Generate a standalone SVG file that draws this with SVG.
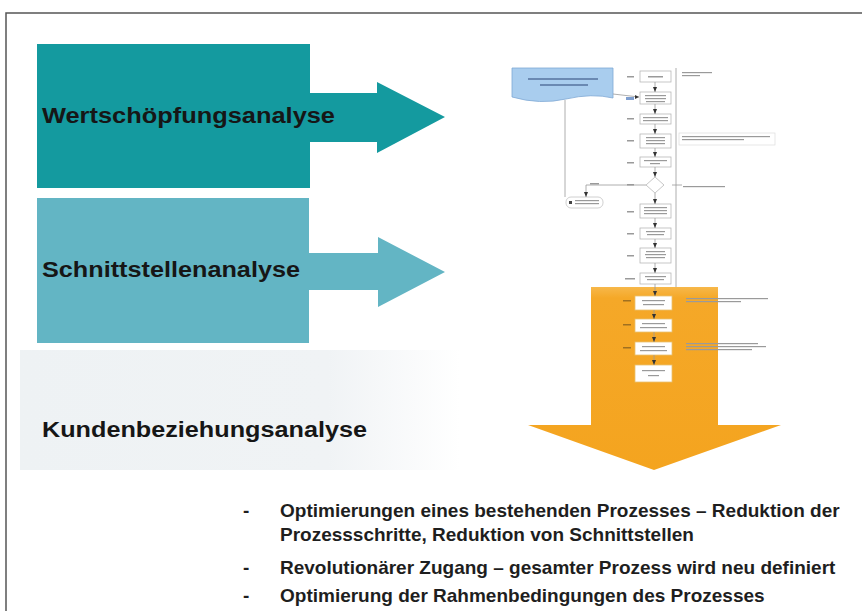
<svg xmlns="http://www.w3.org/2000/svg" width="862" height="611" viewBox="0 0 862 611">
<defs>
<style>
.lbl{font-family:"Liberation Sans",Arial,sans-serif;font-weight:bold;fill:#161616}
.bul{font-family:"Liberation Sans",Arial,sans-serif;font-weight:bold;font-size:19px;fill:#1e1e1e}
.box{fill:#fff;stroke:#b8b8b8;stroke-width:0.8}
.obox{fill:#fff;stroke:#e8c070;stroke-width:0.8}
.note{fill:#fff;stroke:#dcdcdc;stroke-width:0.7}
.ln{stroke:#9a9a9a;stroke-width:0.8;fill:none}
.tx{fill:#9a9a9a}
.ah{fill:#333}
</style>
<linearGradient id="fade" x1="0" y1="0" x2="1" y2="0">
<stop offset="0" stop-color="#eef2f4"/>
<stop offset="0.7" stop-color="#f0f3f5"/>
<stop offset="1" stop-color="#ffffff"/>
</linearGradient>
<linearGradient id="org" x1="0" y1="0" x2="0" y2="1">
<stop offset="0" stop-color="#f7b84a"/>
<stop offset="0.06" stop-color="#f5a828"/>
<stop offset="1" stop-color="#f4a41f"/>
</linearGradient>
</defs>
<rect width="862" height="611" fill="#ffffff"/>
<rect x="6" y="13" width="880" height="640" fill="none" stroke="#555" stroke-width="1.5"/>

<g id="wertschoepfung">
<rect x="37" y="44" width="273" height="144" fill="#149a9f"/>
<polygon points="309,93 377,93 377,82 445,117 377,153 377,142 309,142" fill="#149a9f"/>
<text class="lbl" x="42" y="123" font-size="22" textLength="293" lengthAdjust="spacingAndGlyphs">Wertschöpfungsanalyse</text>
</g>

<g id="schnittstellen">
<rect x="37" y="198" width="272" height="145" fill="#63b5c4"/>
<polygon points="308,253 378,253 378,237 445,272 378,307 378,290 308,290" fill="#63b5c4"/>
<text class="lbl" x="42" y="277" font-size="22" textLength="258" lengthAdjust="spacingAndGlyphs">Schnittstellenanalyse</text>
</g>

<g id="kundenbeziehung">
<rect x="20" y="350" width="440" height="120" fill="url(#fade)"/>
<text class="lbl" x="42" y="437" font-size="22" textLength="325" lengthAdjust="spacingAndGlyphs">Kundenbeziehungsanalyse</text>
</g>

<g id="prozess-pfeil">
<polygon points="591,287 718,287 718,425 781,425 654,470 528,425 591,425" fill="url(#org)"/>
</g>

<g id="flussdiagramm">
<path d="M512,68 H613 V98 Q592,93 566,99 Q540,105 512,97 Z" fill="#a9cdee" stroke="#7fa8d4" stroke-width="0.8"/>
<rect x="528" y="78" width="70" height="2" fill="#506c98" opacity="0.7"/>
<rect x="540" y="84" width="48" height="2" fill="#506c98" opacity="0.7"/>
<line class="ln" x1="676" y1="68" x2="676" y2="287"/>
<line class="ln" x1="565" y1="100" x2="565" y2="197"/>
<line class="ln" x1="613" y1="94" x2="639" y2="97"/>
<polygon class="ah" points="639,97 635,95 635,99"/>

<g id="n1"><rect class="box" x="640" y="71" width="31" height="11"/><rect class="tx" x="648" y="76" width="15" height="1.5"/><rect class="tx" x="627" y="76" width="7" height="1.5"/></g>
<g id="n2"><rect class="box" x="640" y="92" width="31" height="12"/><rect class="tx" x="645" y="95" width="21" height="1.2"/><rect class="tx" x="645" y="98" width="21" height="1.2"/><rect class="tx" x="646" y="101" width="19" height="1.2"/><rect x="626" y="97" width="8" height="3" fill="#7f9fd0"/></g>
<g id="n3"><rect class="box" x="640" y="114" width="31" height="10"/><rect class="tx" x="643" y="117" width="25" height="1.2"/><rect class="tx" x="643" y="120" width="25" height="1.2"/><rect class="tx" x="627" y="118" width="7" height="1.5"/></g>
<g id="n4"><rect class="box" x="640" y="134" width="31" height="14"/><rect class="tx" x="646" y="137" width="19" height="1.2"/><rect class="tx" x="646" y="140" width="19" height="1.2"/><rect class="tx" x="646" y="143" width="19" height="1.2"/><rect class="tx" x="627" y="140" width="7" height="1.5"/></g>
<g id="n5"><rect class="box" x="640" y="157" width="31" height="10"/><rect class="tx" x="644" y="160" width="23" height="1.2"/><rect class="tx" x="650" y="163" width="10" height="1.2"/><rect class="tx" x="627" y="162" width="7" height="1.5"/></g>
<g id="n-entscheid"><polygon points="655,177 664,185 655,193 646,185" fill="#fff" stroke="#b8b8b8" stroke-width="0.8"/><rect class="tx" x="627" y="184" width="7" height="1.5"/></g>
<g id="n6"><rect class="box" x="640" y="204" width="31" height="14"/><rect class="tx" x="644" y="207" width="23" height="1.2"/><rect class="tx" x="644" y="210" width="23" height="1.2"/><rect class="tx" x="644" y="213" width="23" height="1.2"/><rect class="tx" x="627" y="211" width="7" height="1.5"/></g>
<g id="n7"><rect class="box" x="640" y="228" width="31" height="11"/><rect class="tx" x="646" y="231" width="19" height="1.2"/><rect class="tx" x="647" y="234" width="17" height="1.2"/><rect class="tx" x="627" y="233" width="7" height="1.5"/></g>
<g id="n8"><rect class="box" x="640" y="248" width="31" height="15"/><rect class="tx" x="646" y="251" width="19" height="1.2"/><rect class="tx" x="645" y="254" width="21" height="1.2"/><rect class="tx" x="646" y="257" width="19" height="1.2"/><rect class="tx" x="627" y="255" width="7" height="1.5"/></g>
<g id="n9"><rect class="box" x="640" y="273" width="31" height="11"/><rect class="tx" x="645" y="276" width="21" height="1.2"/><rect class="tx" x="647" y="279" width="17" height="1.2"/><rect class="tx" x="625" y="278" width="10" height="1.5"/></g>

<g id="n10"><rect class="obox" x="635" y="296" width="37" height="14"/><rect class="tx" x="642" y="300" width="23" height="1.2"/><rect class="tx" x="643" y="304" width="21" height="1.2"/><rect x="623" y="300" width="8" height="1.5" fill="#a07020"/></g>
<g id="n11"><rect class="obox" x="635" y="319" width="37" height="13"/><rect class="tx" x="642" y="323" width="23" height="1.2"/><rect class="tx" x="640" y="327" width="27" height="1.2"/><rect x="623" y="324" width="8" height="1.5" fill="#a07020"/></g>
<g id="n12"><rect class="obox" x="635" y="342" width="37" height="13"/><rect class="tx" x="642" y="346" width="23" height="1.2"/><rect class="tx" x="640" y="350" width="27" height="1.2"/><rect x="623" y="347" width="8" height="1.5" fill="#a07020"/></g>
<g id="n13"><rect class="obox" x="635" y="365" width="37" height="17"/><rect class="tx" x="642" y="370" width="23" height="1.2"/><rect class="tx" x="648" y="375" width="11" height="1.2"/></g>

<g id="n-links"><rect x="566" y="197" width="37" height="11" rx="5" fill="#fff" stroke="#c4c4c4" stroke-width="0.8"/><rect x="569" y="201" width="3" height="3" fill="#444"/><rect class="tx" x="575" y="200" width="24" height="1.2"/><rect class="tx" x="575" y="203" width="24" height="1.2"/><rect class="tx" x="590" y="183" width="9" height="1.5"/></g>

<g id="notiz1"><rect class="tx" x="682" y="72" width="30" height="1.2"/><rect class="tx" x="682" y="75" width="18" height="1.2"/></g>
<g id="notiz2"><rect class="note" x="679" y="133" width="96" height="12"/><rect class="tx" x="682" y="136" width="88" height="1.2"/><rect class="tx" x="682" y="139" width="62" height="1.2"/></g>
<g id="notiz3"><rect class="tx" x="683" y="186" width="42" height="1.2"/></g>
<g id="notiz4"><rect class="tx" x="686" y="298" width="82" height="1.2"/><rect class="tx" x="686" y="301" width="55" height="1.2"/></g>
<g id="notiz5"><rect class="tx" x="686" y="343" width="72" height="1.2"/><rect class="tx" x="686" y="346" width="80" height="1.2"/><rect class="tx" x="686" y="349" width="66" height="1.2"/></g>
</g>

<g id="verbinder">
<line class="ln" x1="655" y1="82" x2="655" y2="92"/><polygon class="ah" points="655,92 653,87 657,87"/>
<line class="ln" x1="655" y1="104" x2="655" y2="114"/><polygon class="ah" points="655,114 653,109 657,109"/>
<line class="ln" x1="655" y1="124" x2="655" y2="134"/><polygon class="ah" points="655,134 653,129 657,129"/>
<line class="ln" x1="655" y1="148" x2="655" y2="157"/><polygon class="ah" points="655,157 653,152 657,152"/>
<line class="ln" x1="655" y1="167" x2="655" y2="177"/><polygon class="ah" points="655,177 653,172 657,172"/>
<line class="ln" x1="655" y1="193" x2="655" y2="204"/><polygon class="ah" points="655,204 653,199 657,199"/>
<line class="ln" x1="655" y1="218" x2="655" y2="228"/><polygon class="ah" points="655,228 653,223 657,223"/>
<line class="ln" x1="655" y1="239" x2="655" y2="248"/><polygon class="ah" points="655,248 653,243 657,243"/>
<line class="ln" x1="655" y1="263" x2="655" y2="273"/><polygon class="ah" points="655,273 653,268 657,268"/>
<line class="ln" x1="655" y1="284" x2="655" y2="296"/><polygon class="ah" points="655,296 653,291 657,291"/>
<line class="ln" x1="654" y1="310" x2="654" y2="319"/><polygon class="ah" points="654,319 652,314 656,314"/>
<line class="ln" x1="654" y1="332" x2="654" y2="342"/><polygon class="ah" points="654,342 652,337 656,337"/>
<line class="ln" x1="654" y1="355" x2="654" y2="365"/><polygon class="ah" points="654,365 652,360 656,360"/>
<polyline class="ln" points="646,185 586,185 586,197"/><polygon class="ah" points="586,197 584,192 588,192"/>
<line class="ln" x1="672" y1="185" x2="682" y2="185"/>
</g>

<g id="aufzaehlung">
<text class="bul" x="243" y="517">-</text>
<text class="bul" x="280" y="517">Optimierungen eines bestehenden Prozesses – Reduktion der</text>
<text class="bul" x="280" y="541">Prozessschritte, Reduktion von Schnittstellen</text>
<text class="bul" x="243" y="574">-</text>
<text class="bul" x="280" y="574">Revolutionärer Zugang – gesamter Prozess wird neu definiert</text>
<text class="bul" x="243" y="602">-</text>
<text class="bul" x="280" y="602">Optimierung der Rahmenbedingungen des Prozesses</text>
</g>
</svg>
